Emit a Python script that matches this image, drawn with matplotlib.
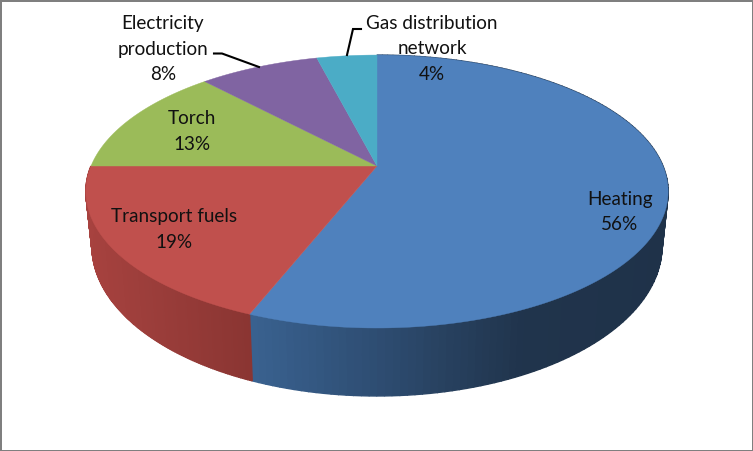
import numpy as np
import matplotlib
matplotlib.use("Agg")
import matplotlib.pyplot as plt
from matplotlib.patches import Rectangle, Polygon

plt.rcParams['font.family'] = ['Lato', 'DejaVu Sans']

# Data, clockwise from 12 o'clock
labels = ['Heating', 'Transport fuels', 'Torch', 'Electricity\nproduction', 'Gas distribution\nnetwork']
values = [56, 19, 13, 8, 4]
colors = ['#4f81bd', '#c0504d', '#9bbb59', '#8064a2', '#4bacc6']

# Shading of the visible side wall, per wedge (only the first two show)
wall_stops_x = [[250, 300, 376, 450, 520, 668], [86, 150, 252]]
wall_stops_rgb = [
    ['#3a6290', '#355a85', '#2e4d72', '#27405e', '#20344c', '#1f3249'],
    ['#a8423f', '#9c3e3b', '#8a3532'],
]

label_xy = [(620, 212), (174, 229.5), (192, 131.5), (163, 49), (432, 49)]

# Perspective of the disc: apex position, radii and tilt
CX = 377
K = 0.187
TOP = dict(y0=166, X=286, Y=131.7)
BOTTOM = dict(y0=218, X=280, Y=144.7)


def project(theta, p):
    """theta in radians, clockwise from the top of the disc -> pixel coords."""
    u, v = np.sin(theta), np.cos(theta)
    w = 1 + K * v
    return CX + p['X'] * u / w, p['y0'] - p['Y'] * v / w


fig = plt.figure(figsize=(7.53, 4.51), dpi=100, facecolor='white')
ax = fig.add_axes([0, 0, 1, 1])
ax.set_xlim(0, 753)
ax.set_ylim(451, 0)
ax.axis('off')

fractions = np.array(values) / np.sum(values)
edges = np.concatenate([[0], np.cumsum(fractions)]) * 2 * np.pi

# Side wall first, in thin strips so that the shading looks continuous
for i in range(2):
    th = np.linspace(edges[i], edges[i + 1], 160)
    xt, yt = project(th, TOP)
    xb, yb = project(th, BOTTOM)
    rgb = np.array([matplotlib.colors.to_rgb(c) for c in wall_stops_rgb[i]])
    for j in range(len(th) - 1):
        xm = (xb[j] + xb[j + 1]) / 2
        col = [np.interp(xm, wall_stops_x[i], rgb[:, n]) for n in range(3)]
        pts = [(xt[j], yt[j]), (xt[j + 1], yt[j + 1]), (xb[j + 1], yb[j + 1]), (xb[j], yb[j])]
        ax.add_patch(Polygon(pts, closed=True, facecolor=col, edgecolor=col, lw=1.0, zorder=2))

# Top face
for i, c in enumerate(colors):
    th = np.linspace(edges[i], edges[i + 1], 200)
    x, y = project(th, TOP)
    ax.fill(np.r_[CX, x], np.r_[TOP['y0'], y], color=c, lw=0.3, zorder=3)

# Labels
for name, val, (lx, ly) in zip(labels, values, label_xy):
    ax.text(lx, ly, f'{name}\n{val}%', ha='center', va='center', fontsize=13.6,
            color='#111111', linespacing=1.6, zorder=5)

# Leader lines
ax.plot([214, 222, 259], [53.5, 53.5, 67], color='black', lw=1.5, zorder=4, solid_joinstyle='miter')
ax.plot([361, 353, 347], [29, 29, 55], color='black', lw=1.5, zorder=4, solid_joinstyle='miter')

# Grey frame round the picture
frame = '#7f7f7f'
ax.add_patch(Rectangle((0, 0), 753, 2, color=frame, lw=0, zorder=6))
ax.add_patch(Rectangle((0, 0), 2.5, 451, color=frame, lw=0, zorder=6))
ax.add_patch(Rectangle((0, 450), 753, 1, color=frame, lw=0, zorder=6))
ax.add_patch(Rectangle((752, 0), 1, 451, color=frame, lw=0, zorder=6))

fig.savefig('out.png', dpi=100)
